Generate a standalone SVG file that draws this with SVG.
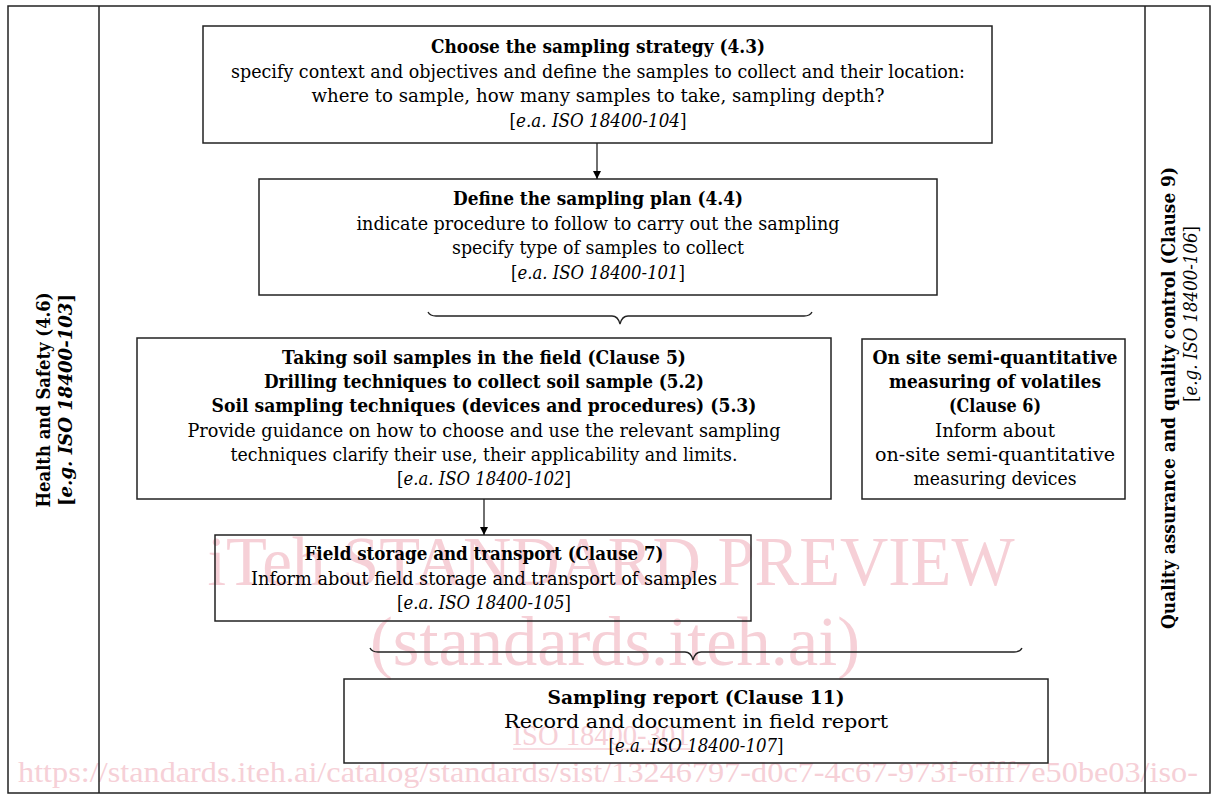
<svg xmlns="http://www.w3.org/2000/svg" width="1212" height="796" viewBox="0 0 1212 796">
<style>
.t{font-family:"DejaVu Serif","Liberation Serif",serif;font-size:18px;fill:#000;text-anchor:middle}
.b{font-weight:bold}
.i{font-style:italic}
.box{fill:none;stroke:#222;stroke-width:1.5}
.wm{font-family:"Liberation Serif",serif;fill:#f6d0d7;text-anchor:middle}
.ln{fill:none;stroke:#222;stroke-width:1.3}
</style>
<defs>
<marker id="ah" viewBox="0 0 10 10" refX="10" refY="5" markerWidth="8" markerHeight="12" markerUnits="userSpaceOnUse" orient="auto">
<path d="M0,0 L10,5 L0,10 z" fill="#000"/>
</marker>
</defs>
<rect width="1212" height="796" fill="#fff"/>
<g id="watermark">
<text class="wm" x="611" y="585" font-size="70" textLength="807" lengthAdjust="spacingAndGlyphs">iTeh STANDARD PREVIEW</text>
<text class="wm" x="615" y="665" font-size="70" textLength="490" lengthAdjust="spacingAndGlyphs">(standards.iteh.ai)</text>
<text class="wm" x="601" y="745" font-size="30" textLength="177" lengthAdjust="spacingAndGlyphs">ISO 18400-301</text>
<line x1="513" y1="749" x2="690" y2="749" stroke="#f6d0d7" stroke-width="1.5"/>
<text class="wm" x="608" y="782" font-size="30" textLength="1180" lengthAdjust="spacingAndGlyphs">https://standards.iteh.ai/catalog/standards/sist/13246797-d0c7-4c67-973f-6fff7e50be03/iso-</text>
</g>
<g id="frame">
<rect class="box" x="8" y="6" width="1202" height="787"/>
<line class="box" x1="99" y1="6" x2="99" y2="793"/>
<line class="box" x1="1145" y1="6" x2="1145" y2="793"/>
</g>
<g id="health-safety">
<text class="t b" transform="translate(50,400) rotate(-90)" textLength="215" lengthAdjust="spacingAndGlyphs">Health and Safety (4.6)</text>
<text class="t b" transform="translate(72,400) rotate(-90)" textLength="212" lengthAdjust="spacingAndGlyphs">[<tspan class="i">e.g. ISO 18400-103</tspan>]</text>
</g>
<g id="quality">
<text class="t b" transform="translate(1175,398) rotate(-90)" textLength="462" lengthAdjust="spacingAndGlyphs">Quality assurance and quality control (Clause 9)</text>
<text class="t" transform="translate(1197,314) rotate(-90)" textLength="176" lengthAdjust="spacingAndGlyphs">[<tspan class="i">e.g. ISO 18400-106</tspan>]</text>
</g>
<g id="strategy">
<rect class="box" x="203" y="26" width="789" height="117"/>
<text class="t b" x="598" y="53" textLength="334" lengthAdjust="spacingAndGlyphs">Choose the sampling strategy (4.3)</text>
<text class="t" x="598" y="78" textLength="734" lengthAdjust="spacingAndGlyphs">specify context and objectives and define the samples to collect and their location:</text>
<text class="t" x="598" y="102" textLength="573" lengthAdjust="spacingAndGlyphs">where to sample, how many samples to take, sampling depth?</text>
<text class="t" x="598" y="127" textLength="177" lengthAdjust="spacingAndGlyphs">[<tspan class="i">e.a. ISO 18400-104</tspan>]</text>
</g>
<g id="plan">
<rect class="box" x="259" y="179" width="678" height="116"/>
<text class="t b" x="598" y="205" textLength="290" lengthAdjust="spacingAndGlyphs">Define the sampling plan (4.4)</text>
<text class="t" x="598" y="230" textLength="483" lengthAdjust="spacingAndGlyphs">indicate procedure to follow to carry out the sampling</text>
<text class="t" x="598" y="254" textLength="292" lengthAdjust="spacingAndGlyphs">specify type of samples to collect</text>
<text class="t" x="598" y="279" textLength="174" lengthAdjust="spacingAndGlyphs">[<tspan class="i">e.a. ISO 18400-101</tspan>]</text>
</g>
<g id="field">
<rect class="box" x="137" y="338" width="694" height="161"/>
<text class="t b" x="484" y="364" textLength="404" lengthAdjust="spacingAndGlyphs">Taking soil samples in the field (Clause 5)</text>
<text class="t b" x="484" y="388" textLength="440" lengthAdjust="spacingAndGlyphs">Drilling techniques to collect soil sample (5.2)</text>
<text class="t b" x="484" y="412" textLength="545" lengthAdjust="spacingAndGlyphs">Soil sampling techniques (devices and procedures) (5.3)</text>
<text class="t" x="484" y="437" textLength="593" lengthAdjust="spacingAndGlyphs">Provide guidance on how to choose and use the relevant sampling</text>
<text class="t" x="484" y="461" textLength="507" lengthAdjust="spacingAndGlyphs">techniques clarify their use, their applicability and limits.</text>
<text class="t" x="484" y="485" textLength="174" lengthAdjust="spacingAndGlyphs">[<tspan class="i">e.a. ISO 18400-102</tspan>]</text>
</g>
<g id="volatiles">
<rect class="box" x="862" y="339" width="263" height="160"/>
<text class="t b" x="995" y="364" textLength="245" lengthAdjust="spacingAndGlyphs">On site semi-quantitative</text>
<text class="t b" x="995" y="388" textLength="212" lengthAdjust="spacingAndGlyphs">measuring of volatiles</text>
<text class="t b" x="995" y="412" textLength="92" lengthAdjust="spacingAndGlyphs">(Clause 6)</text>
<text class="t" x="995" y="437" textLength="120" lengthAdjust="spacingAndGlyphs">Inform about</text>
<text class="t" x="995" y="461" textLength="240" lengthAdjust="spacingAndGlyphs">on-site semi-quantitative</text>
<text class="t" x="995" y="485" textLength="163" lengthAdjust="spacingAndGlyphs">measuring devices</text>
</g>
<g id="storage">
<rect class="box" x="215" y="535" width="536" height="86"/>
<text class="t b" x="484" y="560" textLength="359" lengthAdjust="spacingAndGlyphs">Field storage and transport (Clause 7)</text>
<text class="t" x="484" y="585" textLength="466" lengthAdjust="spacingAndGlyphs">Inform about field storage and transport of samples</text>
<text class="t" x="484" y="609" textLength="174" lengthAdjust="spacingAndGlyphs">[<tspan class="i">e.a. ISO 18400-105</tspan>]</text>
</g>
<g id="report">
<rect class="box" x="344" y="679" width="704" height="84"/>
<text class="t b" x="696" y="704" textLength="297" lengthAdjust="spacingAndGlyphs">Sampling report (Clause 11)</text>
<text class="t" x="696" y="728" textLength="384" lengthAdjust="spacingAndGlyphs">Record and document in field report</text>
<text class="t" x="696" y="752" textLength="175" lengthAdjust="spacingAndGlyphs">[<tspan class="i">e.a. ISO 18400-107</tspan>]</text>
</g>
<g id="connectors">
<line class="ln" x1="597" y1="143" x2="597" y2="179" marker-end="url(#ah)"/>
<line class="ln" x1="484" y1="499" x2="484" y2="535" marker-end="url(#ah)"/>
<path class="ln" d="M428,312 Q430,316 436,316 L612,316 Q618,316 620,324 Q622,316 628,316 L804,316 Q810,316 812,312"/>
<path class="ln" d="M370,648 Q372,652 378,652 L685,652 Q691,652 693,660 Q695,652 701,652 L1014,652 Q1020,652 1022,648"/>
</g>
</svg>
